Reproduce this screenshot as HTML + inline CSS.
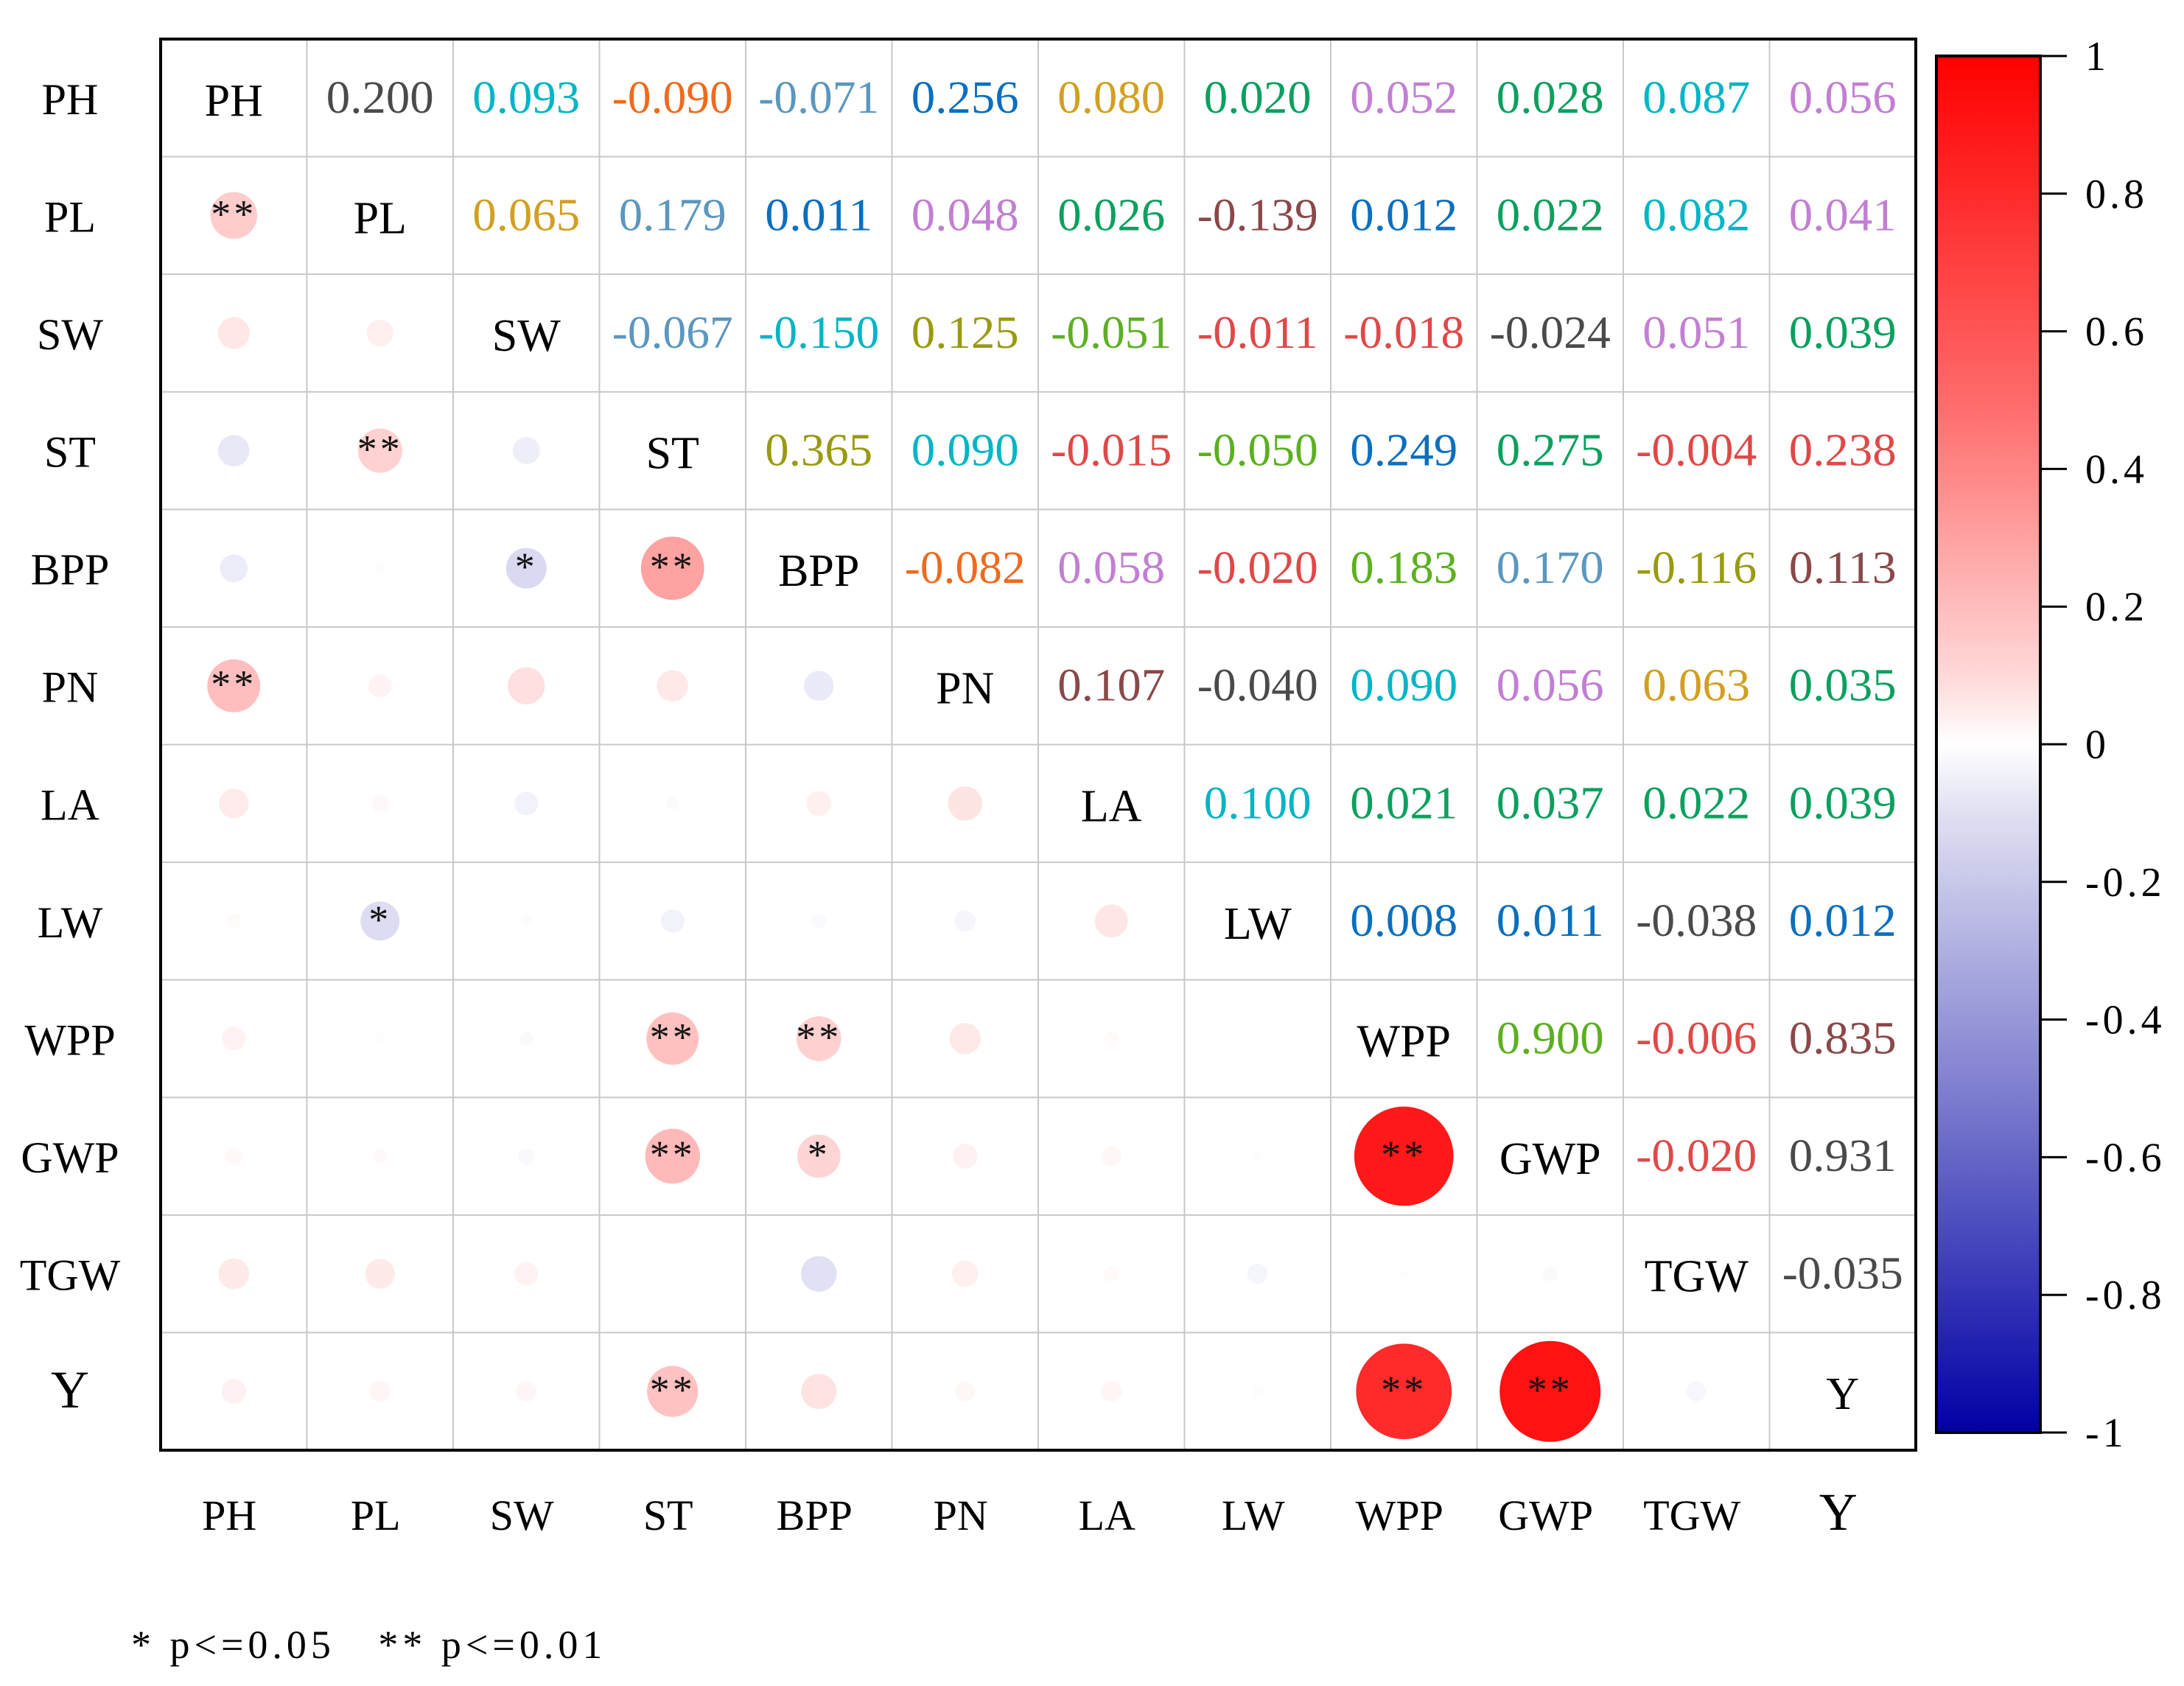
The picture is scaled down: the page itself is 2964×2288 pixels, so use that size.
<!DOCTYPE html>
<html><head><meta charset="utf-8"><style>
html,body{margin:0;padding:0;background:#fff;}
svg{display:block;font-family:"Liberation Serif",serif;}
</style></head><body>
<svg id="chart" width="2964" height="2288" viewBox="0 0 2964 2288"></svg>
<script>
const labels=["PH","PL","SW","ST","BPP","PN","LA","LW","WPP","GWP","TGW","Y"];
const upperValues=[
[0.200,0.093,-0.090,-0.071,0.256,0.080,0.020,0.052,0.028,0.087,0.056],
[0.065,0.179,0.011,0.048,0.026,-0.139,0.012,0.022,0.082,0.041],
[-0.067,-0.150,0.125,-0.051,-0.011,-0.018,-0.024,0.051,0.039],
[0.365,0.090,-0.015,-0.050,0.249,0.275,-0.004,0.238],
[-0.082,0.058,-0.020,0.183,0.170,-0.116,0.113],
[0.107,-0.040,0.090,0.056,0.063,0.035],
[0.100,0.021,0.037,0.022,0.039],
[0.008,0.011,-0.038,0.012],
[0.900,-0.006,0.835],
[-0.020,0.931],
[-0.035]
];
const upperColors=[
["#4a4a4a","#00b5c5","#ee6a1e","#5b97bf","#0a6fbe","#d2a020","#0aa05e","#c27fd2","#0aa05e","#00b5c5","#c27fd2"],
["#d2a020","#5b97bf","#0a6fbe","#c27fd2","#0aa05e","#8a4848","#0a6fbe","#0aa05e","#00b5c5","#c27fd2"],
["#5b97bf","#00b5c5","#9a9a10","#5cb020","#e04848","#e04848","#4a4a4a","#c27fd2","#0aa05e"],
["#9a9a10","#00b5c5","#e04848","#5cb020","#0a6fbe","#0aa05e","#e04848","#e04848"],
["#ee6a1e","#c27fd2","#e04848","#5cb020","#5b97bf","#9a9a10","#8a4848"],
["#8a4848","#4a4a4a","#00b5c5","#c27fd2","#d2a020","#0aa05e"],
["#00b5c5","#0aa05e","#0aa05e","#0aa05e","#0aa05e"],
["#0a6fbe","#0a6fbe","#4a4a4a","#0a6fbe"],
["#5cb020","#e04848","#8a4848"],
["#e04848","#4a4a4a"],
["#4a4a4a"]
];
const sigCells=[[1,0,"**"],[3,1,"**"],[4,2,"*"],[4,3,"**"],[5,0,"**"],[7,1,"*"],[8,3,"**"],[8,4,"**"],[9,3,"**"],[9,4,"*"],[9,8,"**"],[11,3,"**"],[11,8,"**"],[11,9,"**"]];
const cbTicks=[1,0.8,0.6,0.4,0.2,0,-0.2,-0.4,-0.6,-0.8,-1];
const cbTickLabels=["1","0.8","0.6","0.4","0.2","0","-0.2","-0.4","-0.6","-0.8","-1"];

const NS="http://www.w3.org/2000/svg";
const svg=document.getElementById('chart');
function mk(t,a,p){const e=document.createElementNS(NS,t);for(const k in a)e.setAttribute(k,a[k]);(p||svg).appendChild(e);return e;}
const L=218,R=2600,T=53,B=1968,n=labels.length;
const cw=(R-L)/n,ch=(B-T)/n;
const cx=j=>L+cw*(j+0.5), cy=i=>T+ch*(i+0.5);
function colorOf(r){
  if(r>=0){const g=Math.round(255*(1-r));return `rgb(255,${g},${g})`;}
  const a=-r;return `rgb(${Math.round(255*(1-a))},${Math.round(255*(1-a))},${Math.round(255-(255-165)*a)})`;
}
function val(i,j){return i<j?upperValues[i][j-i-1]:upperValues[j][i-j-1];}

for(let k=1;k<n;k++){
  let l=mk('line',{x1:L+cw*k,x2:L+cw*k,y1:T,y2:B,stroke:'#c8c8c8','stroke-width':2});
  
  l=mk('line',{x1:L,x2:R,y1:T+ch*k,y2:T+ch*k,stroke:'#c8c8c8','stroke-width':2});
  
}
let frame=mk('rect',{x:L,y:T,width:R-L,height:B-T,fill:'none',stroke:'#000','stroke-width':4});


for(let i=0;i<n;i++){
  for(let j=0;j<n;j++){
    if(i===j){
      const t=mk('text',{x:cx(j),y:cy(i)+24,'text-anchor':'middle','font-size':62,fill:'#000'});
      t.textContent=labels[i];
      
    }else if(i<j){
      const t=mk('text',{x:cx(j),y:cy(i)+20,'text-anchor':'middle','font-size':62,fill:upperColors[i][j-i-1],'textLength':164,'lengthAdjust':'spacingAndGlyphs'});
      t.textContent=upperValues[i][j-i-1].toFixed(3);
      if(upperValues[i][j-i-1]>=0)t.setAttribute('textLength',146);
      
    }else{
      const r=val(i,j);
      const c=mk('circle',{cx:cx(j),cy:cy(i),r:71*Math.sqrt(Math.abs(r)),fill:colorOf(r)});
      
    }
  }
}
sigCells.forEach(s=>{
  const t=mk('text',{x:cx(s[1]),y:cy(s[0])+16,'text-anchor':'middle','font-size':54,fill:'#111','letter-spacing':4});
  t.textContent=s[2];
  
});
labels.forEach((lb,i)=>{
  let t=mk('text',{x:95,y:cy(i)+22,'text-anchor':'middle','font-size':lb==='Y'?72:60,fill:'#000'});
  t.textContent=lb;
  
  t=mk('text',{x:cx(i)-6,y:2076,'text-anchor':'middle','font-size':lb==='Y'?72:58,fill:'#000'});
  t.textContent=lb;
  
});

const defs=mk('defs',{});
const grad=mk('linearGradient',{id:'cbg',x1:0,y1:0,x2:0,y2:1},defs);
[[0,'#ff0000'],[0.25,'#ff6a6a'],[0.45,'#ffd8d8'],[0.5,'#ffffff'],[0.55,'#e0e0f2'],[0.75,'#7f7fd0'],[1,'#0000a5']].forEach(s=>mk('stop',{offset:s[0],'stop-color':s[1]},grad));
const cbL=2628,cbR=2769,cbT=76,cbB=1944;
const cbY=v=>cbT+(1-v)/2*(cbB-cbT);
let cb=mk('rect',{x:cbL,y:cbT,width:cbR-cbL,height:cbB-cbT,fill:'url(#cbg)',stroke:'#000','stroke-width':4});

cbTicks.forEach((v,k)=>{
  const l=mk('line',{x1:cbR,x2:2805,y1:cbY(v),y2:cbY(v),stroke:'#000','stroke-width':3});
  
  const t=mk('text',{x:2830,y:cbY(v)+19,'font-size':56,fill:'#000','letter-spacing':5});
  t.textContent=cbTickLabels[k];
  
});
let fn=mk('text',{x:178,y:2250,'font-size':54,fill:'#000','letter-spacing':6,style:'white-space:pre'});
fn.textContent="* p<=0.05   ** p<=0.01";

</script>
</body></html>
